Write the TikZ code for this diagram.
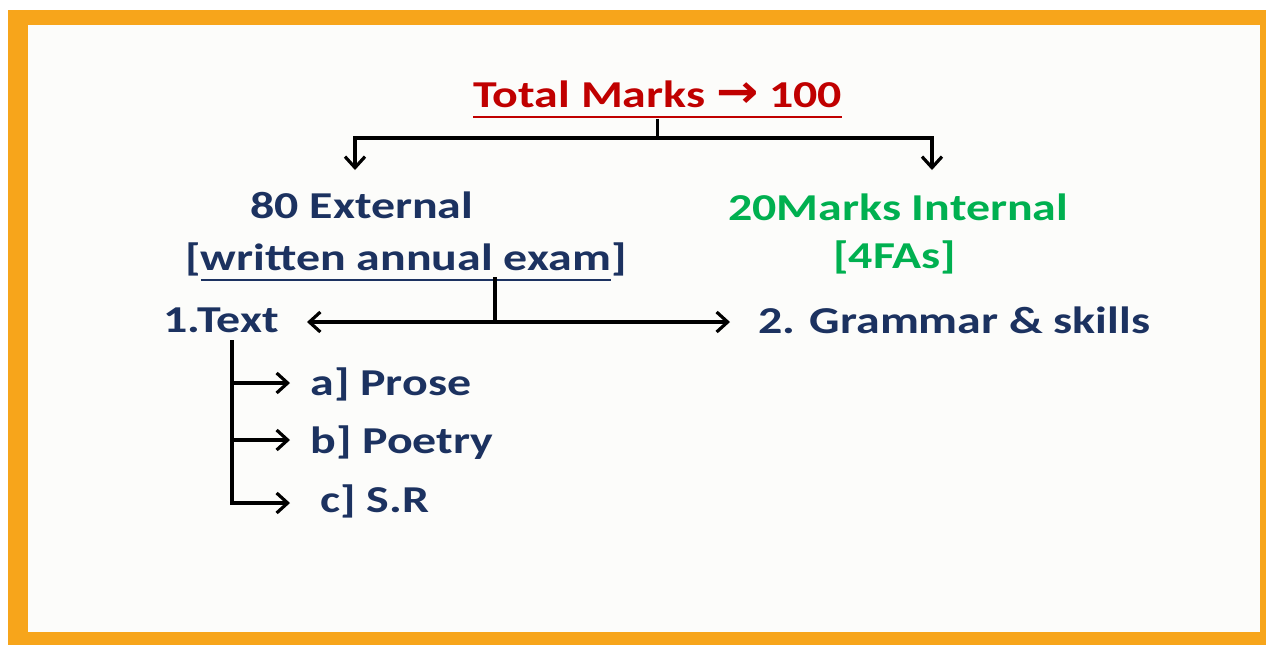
\documentclass[tikz,border=0pt]{standalone}
\usepackage{fontspec}
\usetikzlibrary{arrows.meta}
\newfontfamily\chartfont{Carlito}[FakeStretch=1.26]
\newfontfamily\arrowfont{DejaVu Sans}[FakeStretch=1.1]
\definecolor{frameorange}{RGB}{247,165,27}
\definecolor{paper}{RGB}{252,252,250}
\definecolor{titlered}{RGB}{192,0,0}
\definecolor{navy}{RGB}{28,50,96}
\definecolor{intgreen}{RGB}{0,176,80}
% thick underline under a piece of text
\newcommand\ulinetext[1]{\setbox0\hbox{#1}\rlap{\rule[-5.7pt]{\wd0}{1.4pt}}\box0}
\begin{document}
\begin{tikzpicture}[x=0.5pt,y=-0.5pt,
    every node/.style={inner sep=0,anchor=base west,font=\chartfont\bfseries\fontsize{19}{23}\selectfont},
    conn/.style={line width=1.6pt},
    arr/.style={conn,-{Straight Barb[length=5.5pt,width=10pt,line width=1.6pt]}}]
    \useasboundingbox (0,0) rectangle (1266,645);
    \fill[frameorange] (8,10) rectangle (1266,645);
    \fill[paper] (28,25) rectangle (1260,632);

    \node[text=titlered] (total) at (473,107) {\ulinetext{Total Marks {\arrowfont\fontsize{23}{23}\selectfont →} 100}};
    \node[text=navy] (ext) at (250,218) {80 External};
    \node[text=navy] (exam) at (185,270) {[\ulinetext{written annual exam}]};
    \node[text=intgreen] (internal) at (728,220) {20Marks Internal};
    \node[text=intgreen] (fas) at (833,268) {[4FAs]};
    \node[text=navy] (text) at (163,332) {1.Text};
    \node[text=navy] (grammar) at (758,333) {2. Grammar \& skills};
    \node[text=navy] (prose) at (310,395) {a] Prose};
    \node[text=navy] (poetry) at (310,453) {b] Poetry};
    \node[text=navy] (sr) at (320,512) {c] S.R};

    % total -> external / internal
    \coordinate (totalsplit) at (total.south |- 0,138);
    \coordinate (extin) at (355,170);
    \coordinate (intin) at (932,170);
    \draw[conn] (total.south) -- (totalsplit);
    \draw[arr] (totalsplit) -| (extin);
    \draw[arr] (totalsplit) -| (intin);

    % exam -> text / grammar
    \coordinate (examdrop) at (495,277);
    \coordinate (examsplit) at (495,322);
    \coordinate (textin) at (307,322);
    \coordinate (grammarin) at (730,322);
    \draw[conn] (examdrop) -- (examsplit);
    \draw[arr] (examsplit) -- (textin);
    \draw[arr] (examsplit) -- (grammarin);

    % text -> prose, poetry, s.r
    \coordinate (textdrop) at (232,340);
    \coordinate (prosein) at (290,383);
    \coordinate (poetryin) at (290,440);
    \coordinate (srin) at (290,503);
    \draw[arr] (textdrop) |- (srin);
    \foreach \n in {prosein,poetryin}{
        \draw[arr] (textdrop |- \n) -- (\n);
    }
\end{tikzpicture}
\end{document}
